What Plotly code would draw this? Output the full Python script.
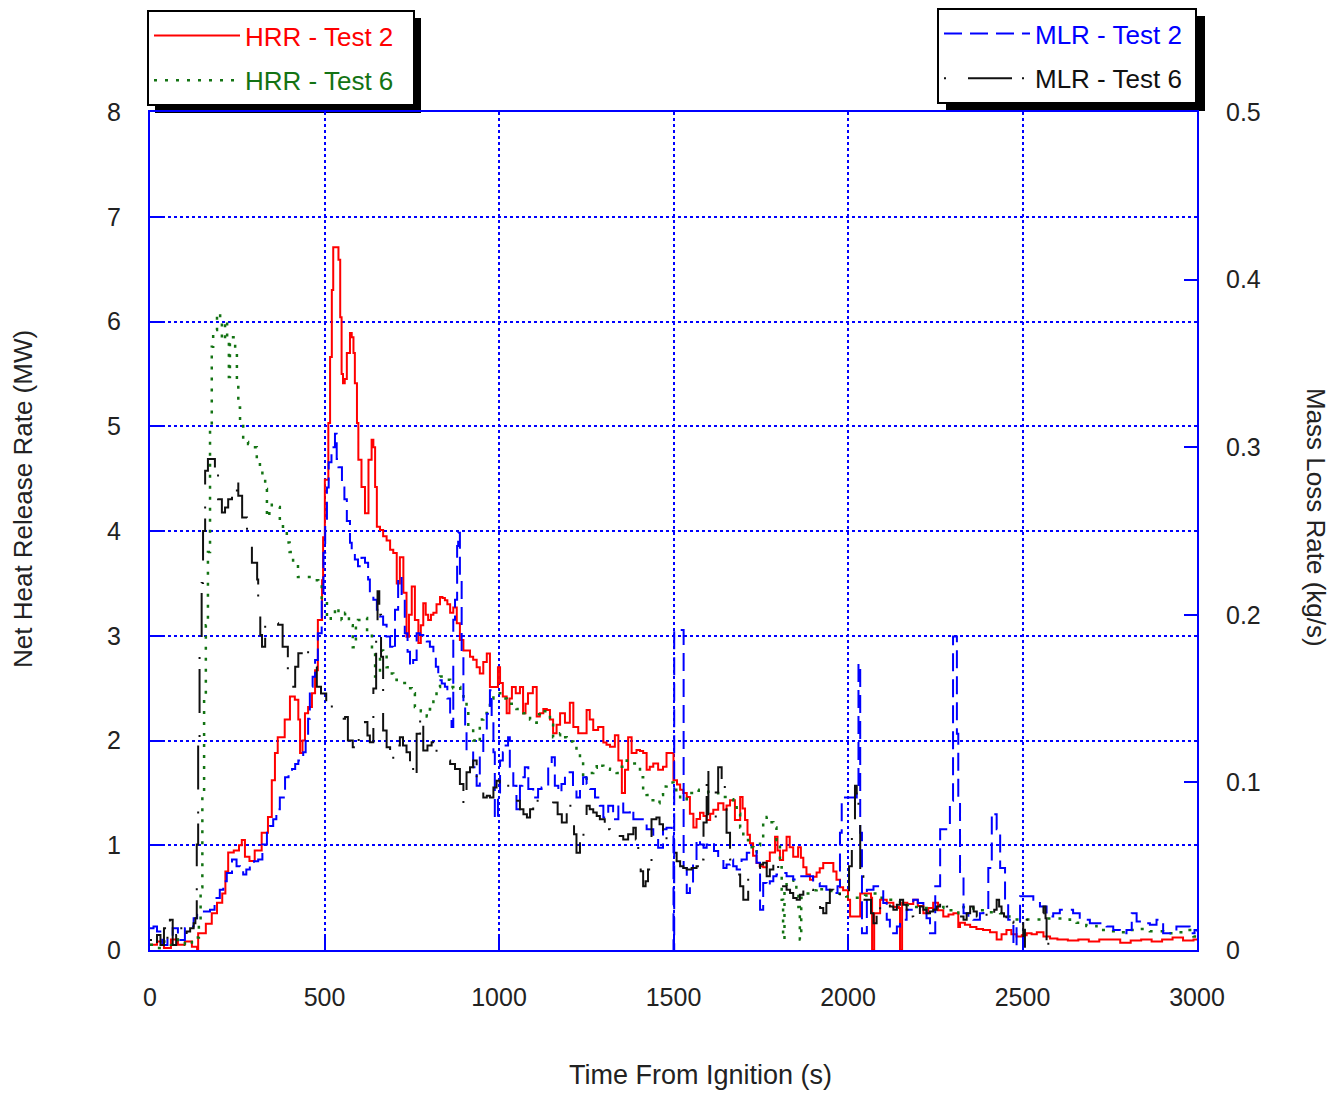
import plotly.graph_objects as go

# (time s, net HRR MW) - HRR Test 2
hrr_test2 = [
    (0, 0.05), (20, 0.08), (40, 0.02), (60, 0.1), (80, 0.05), (100, 0.08), (120, 0.03), (135, 0.0),
    (138, 0.16), (160, 0.25), (177, 0.35), (192, 0.45), (207, 0.54), (216, 0.75), (224, 0.93),
    (240, 0.95), (255, 1.0), (263, 1.05), (272, 0.89), (285, 0.85), (300, 0.95), (320, 1.12),
    (338, 1.27), (349, 1.62), (358, 1.88), (366, 2.03), (386, 2.2), (401, 2.42), (415, 2.39),
    (425, 2.2), (430, 1.88), (437, 2.0), (444, 2.26), (453, 2.32), (464, 2.45), (473, 2.67),
    (481, 3.15), (493, 3.53), (496, 3.94), (501, 4.49), (511, 5.03), (516, 5.66), (521, 6.3),
    (525, 6.71), (535, 6.71), (540, 6.59), (545, 6.04), (549, 5.5), (553, 5.41), (558, 5.45),
    (564, 5.7), (573, 5.89), (578, 5.85), (583, 5.7), (587, 5.41), (593, 5.03), (597, 4.68),
    (606, 4.42), (616, 4.17), (621, 4.17), (626, 4.68), (635, 4.87), (640, 4.8), (645, 4.42),
    (650, 4.04), (659, 4.01), (668, 3.95), (678, 3.91), (688, 3.82), (697, 3.79), (707, 3.5),
    (716, 3.75), (726, 3.41), (735, 2.99), (742, 3.2), (750, 3.47), (759, 3.15), (769, 2.93),
    (776, 3.1), (783, 3.31), (790, 3.2), (797, 3.15), (805, 3.2), (812, 3.22), (821, 3.3),
    (831, 3.37), (838, 3.36), (845, 3.34), (852, 3.3), (860, 3.22), (869, 3.27), (879, 3.12),
    (888, 2.96), (898, 2.86), (907, 2.86), (917, 2.8), (926, 2.77), (936, 2.7), (945, 2.64),
    (955, 2.75), (965, 2.83), (974, 2.51), (988, 2.51), (997, 2.7), (1003, 2.55), (1011, 2.42),
    (1022, 2.26), (1030, 2.4), (1037, 2.51), (1048, 2.45), (1060, 2.51), (1069, 2.26), (1076, 2.35),
    (1083, 2.45), (1097, 2.51), (1108, 2.23), (1117, 2.26), (1127, 2.3), (1137, 2.29), (1146, 2.2),
    (1155, 2.07), (1165, 2.15), (1175, 2.26), (1189, 2.17), (1203, 2.36), (1213, 2.13), (1227, 2.07),
    (1241, 2.07), (1251, 2.29), (1260, 2.2), (1270, 2.1), (1284, 2.13), (1299, 1.98), (1308, 1.96),
    (1318, 1.94), (1332, 2.05), (1342, 1.81), (1352, 1.5), (1361, 1.72), (1370, 2.03), (1380, 1.88),
    (1394, 1.91), (1404, 1.9), (1413, 1.88), (1423, 1.72), (1432, 1.75), (1442, 1.78), (1456, 1.72),
    (1470, 1.75), (1480, 1.88), (1495, 1.88), (1500, 1.62), (1510, 1.58), (1519, 1.53), (1528, 1.5),
    (1538, 1.46), (1547, 1.3), (1557, 1.17), (1566, 1.25), (1576, 1.31), (1586, 1.28), (1595, 1.24),
    (1605, 1.3), (1614, 1.34), (1628, 1.4), (1643, 1.34), (1652, 1.38), (1662, 1.43), (1676, 1.24),
    (1691, 1.46), (1698, 1.35), (1705, 1.24), (1712, 1.1), (1719, 1.02), (1728, 0.9), (1738, 0.83),
    (1747, 0.8), (1757, 0.79), (1767, 0.85), (1776, 0.93), (1791, 1.08), (1798, 0.95), (1805, 0.86),
    (1814, 0.95), (1824, 1.08), (1833, 0.98), (1843, 0.89), (1857, 0.98), (1865, 0.88), (1872, 0.79),
    (1881, 0.72), (1891, 0.67), (1900, 0.7), (1910, 0.74), (1919, 0.78), (1929, 0.83), (1948, 0.83),
    (1958, 0.75), (1967, 0.67), (1977, 0.6), (1986, 0.57), (2000, 0.48), (2006, 0.32), (2024, 0.32),
    (2035, 0.54), (2054, 0.54), (2066, 0.5), (2069, 0.0), (2075, 0.35), (2092, 0.48), (2111, 0.45),
    (2130, 0.41), (2146, 0.4), (2149, 0.0), (2155, 0.45), (2170, 0.44), (2187, 0.48), (2200, 0.42),
    (2216, 0.35), (2230, 0.4), (2244, 0.45), (2258, 0.38), (2273, 0.32), (2288, 0.34), (2302, 0.35),
    (2316, 0.22), (2321, 0.26), (2335, 0.24), (2350, 0.22), (2368, 0.2), (2387, 0.19), (2407, 0.17),
    (2426, 0.1), (2440, 0.15), (2454, 0.19), (2468, 0.15), (2483, 0.13), (2498, 0.14), (2512, 0.16),
    (2526, 0.15), (2541, 0.17), (2560, 0.13), (2579, 0.11), (2600, 0.1), (2630, 0.09), (2660, 0.1),
    (2690, 0.08), (2720, 0.1), (2750, 0.1), (2780, 0.07), (2810, 0.09), (2840, 0.1), (2870, 0.08),
    (2900, 0.1), (2930, 0.12), (2960, 0.09), (2990, 0.1), (3000, 0.1),
]

# (time s, net HRR MW) - HRR Test 6
hrr_test6 = [
    (0, 0.05), (20, 0.02), (40, 0.08), (60, 0.05), (80, 0.1), (100, 0.05), (120, 0.12), (140, 0.25),
    (145, 0.6), (150, 1.5), (155, 2.4), (160, 3.1), (166, 3.8), (172, 4.96), (177, 5.76), (181, 5.92),
    (192, 6.08), (201, 6.01), (206, 5.82), (215, 6.01), (221, 5.85), (226, 5.47), (229, 5.78),
    (238, 5.85), (244, 5.7), (249, 5.4), (253, 5.18), (258, 5.03), (267, 4.85), (281, 4.83),
    (295, 4.8), (306, 4.65), (315, 4.6), (322, 4.5), (330, 4.4), (335, 4.13), (342, 4.2), (349, 4.25),
    (364, 4.23), (372, 4.08), (381, 4.01), (392, 3.89), (400, 3.8), (410, 3.7), (424, 3.56),
    (443, 3.56), (463, 3.53), (482, 3.5), (492, 3.34), (507, 3.15), (518, 3.2), (530, 3.27),
    (540, 3.2), (549, 3.15), (559, 3.22), (570, 3.1), (581, 2.89), (590, 3.1), (596, 3.15),
    (610, 3.17), (622, 3.0), (636, 2.86), (645, 2.61), (659, 2.86), (668, 2.83), (678, 2.7),
    (688, 2.64), (697, 2.58), (707, 2.55), (716, 2.55), (726, 2.55), (738, 2.5), (750, 2.45),
    (759, 2.32), (776, 2.28), (793, 2.23), (802, 2.3), (812, 2.39), (821, 2.51), (831, 2.61),
    (840, 2.6), (850, 2.58), (860, 2.51), (869, 2.5), (879, 2.51), (889, 2.47), (898, 2.42),
    (907, 2.29), (912, 2.13), (926, 2.0), (936, 1.98), (945, 2.2), (955, 2.26), (965, 2.32),
    (974, 2.4), (984, 2.45), (993, 2.45), (1003, 2.45), (1012, 2.4), (1022, 2.36), (1031, 2.35),
    (1041, 2.34), (1050, 2.3), (1060, 2.29), (1070, 2.26), (1080, 2.23), (1089, 2.2), (1098, 2.17),
    (1108, 2.25), (1117, 2.29), (1127, 2.28), (1137, 2.26), (1146, 2.15), (1155, 2.03), (1165, 2.05),
    (1175, 2.07), (1185, 2.03), (1194, 2.0), (1203, 1.99), (1213, 1.98), (1222, 1.9), (1232, 1.81),
    (1241, 1.62), (1251, 1.65), (1261, 1.69), (1270, 1.74), (1280, 1.78), (1290, 1.76), (1299, 1.75),
    (1308, 1.73), (1318, 1.72), (1327, 1.7), (1337, 1.69), (1352, 1.75), (1366, 1.81), (1380, 1.78),
    (1394, 1.75), (1404, 1.65), (1413, 1.53), (1423, 1.48), (1432, 1.43), (1442, 1.41), (1451, 1.4),
    (1460, 1.48), (1470, 1.56), (1480, 1.6), (1490, 1.6), (1500, 1.55), (1508, 1.5), (1519, 1.43),
    (1528, 1.44), (1538, 1.46), (1547, 1.5), (1557, 1.53), (1572, 1.52), (1586, 1.51), (1600, 1.5),
    (1614, 1.5), (1628, 1.48), (1643, 1.46), (1657, 1.44), (1671, 1.43), (1681, 1.3), (1691, 1.17),
    (1700, 1.05), (1714, 0.98), (1729, 0.93), (1738, 1.0), (1748, 1.05), (1757, 1.24), (1767, 1.27),
    (1776, 1.22), (1786, 1.17), (1795, 1.05), (1805, 0.79), (1810, 0.48), (1814, 0.1), (1818, 0.6),
    (1824, 0.64), (1833, 0.66), (1843, 0.67), (1852, 0.55), (1858, 0.41), (1862, 0.1), (1866, 0.5),
    (1881, 0.54), (1895, 0.57), (1910, 0.6), (1924, 0.58), (1938, 0.57), (1952, 0.55), (1967, 0.54),
    (1981, 0.52), (1995, 0.51), (2015, 0.5), (2035, 0.51), (2049, 0.52), (2063, 0.54), (2087, 0.5),
    (2111, 0.48), (2130, 0.47), (2149, 0.46), (2168, 0.43), (2187, 0.41), (2206, 0.4), (2225, 0.38),
    (2249, 0.4), (2273, 0.41), (2288, 0.38), (2302, 0.35), (2316, 0.38), (2331, 0.41), (2345, 0.4),
    (2359, 0.38), (2397, 0.36), (2436, 0.35), (2455, 0.32), (2474, 0.29), (2507, 0.29), (2541, 0.29),
    (2569, 0.3), (2593, 0.3), (2617, 0.29), (2636, 0.27), (2655, 0.26), (2683, 0.23), (2712, 0.19),
    (2741, 0.18), (2770, 0.17), (2798, 0.19), (2827, 0.2), (2865, 0.18), (2903, 0.16), (2932, 0.17),
    (2961, 0.19), (2990, 0.13), (3000, 0.14),
]

# (time s, mass loss rate kg/s) - MLR Test 2
mlr_test2 = [
    (0, 0.013), (10, 0.014), (20, 0.011), (35, 0.003), (50, 0.008), (65, 0.013), (80, 0.006),
    (100, 0.013), (115, 0.014), (125, 0.019), (135, 0.022), (150, 0.023), (172, 0.024), (185, 0.031),
    (200, 0.036), (210, 0.041), (220, 0.046), (235, 0.054), (248, 0.05), (258, 0.049), (267, 0.045),
    (276, 0.048), (286, 0.05), (298, 0.053), (310, 0.054), (322, 0.063), (335, 0.07), (344, 0.074),
    (353, 0.078), (362, 0.084), (372, 0.091), (387, 0.103), (397, 0.106), (407, 0.108), (416, 0.111),
    (425, 0.113), (439, 0.118), (446, 0.125), (453, 0.138), (458, 0.157), (466, 0.163), (473, 0.173),
    (481, 0.189), (492, 0.209), (497, 0.237), (502, 0.256), (507, 0.276), (512, 0.291), (520, 0.3),
    (530, 0.308), (535, 0.293), (540, 0.288), (550, 0.276), (557, 0.269), (564, 0.256), (573, 0.243),
    (578, 0.237), (587, 0.233), (596, 0.229), (606, 0.234), (616, 0.231), (625, 0.221), (630, 0.213),
    (640, 0.209), (650, 0.203), (659, 0.199), (668, 0.194), (678, 0.187), (688, 0.181), (697, 0.179),
    (702, 0.203), (711, 0.223), (721, 0.211), (730, 0.189), (738, 0.178), (745, 0.169), (754, 0.173),
    (764, 0.189), (773, 0.188), (783, 0.187), (793, 0.184), (802, 0.181), (812, 0.175), (819, 0.169),
    (826, 0.161), (836, 0.159), (845, 0.157), (852, 0.15), (860, 0.141), (864, 0.133), (869, 0.197),
    (874, 0.209), (880, 0.241), (883, 0.249), (888, 0.221), (893, 0.177), (898, 0.148), (903, 0.131),
    (907, 0.119), (917, 0.119), (926, 0.109), (936, 0.098), (945, 0.118), (955, 0.131), (965, 0.141),
    (974, 0.155), (979, 0.138), (984, 0.118), (988, 0.078), (997, 0.094), (1003, 0.113), (1011, 0.118),
    (1019, 0.122), (1026, 0.127), (1031, 0.108), (1041, 0.098), (1050, 0.084), (1060, 0.098),
    (1067, 0.103), (1074, 0.109), (1084, 0.096), (1098, 0.091), (1112, 0.096), (1122, 0.097),
    (1131, 0.098), (1141, 0.109), (1151, 0.115), (1160, 0.098), (1170, 0.094), (1179, 0.099),
    (1189, 0.106), (1203, 0.106), (1212, 0.097), (1222, 0.091), (1232, 0.099), (1241, 0.103),
    (1251, 0.099), (1261, 0.096), (1275, 0.091), (1289, 0.086), (1299, 0.079), (1313, 0.086),
    (1327, 0.078), (1342, 0.088), (1356, 0.082), (1375, 0.084), (1385, 0.078), (1404, 0.078),
    (1423, 0.072), (1442, 0.068), (1456, 0.061), (1470, 0.072), (1480, 0.073), (1495, 0.072),
    (1498, 0.068), (1500, 0.0), (1502, 0.191), (1527, 0.191), (1529, 0.049), (1538, 0.034),
    (1547, 0.04), (1556, 0.053), (1566, 0.066), (1576, 0.063), (1586, 0.061), (1595, 0.063),
    (1605, 0.064), (1616, 0.059), (1628, 0.054), (1643, 0.049), (1652, 0.051), (1662, 0.054),
    (1671, 0.05), (1681, 0.048), (1695, 0.054), (1710, 0.058), (1724, 0.059), (1738, 0.052),
    (1748, 0.024), (1757, 0.04), (1767, 0.038), (1776, 0.041), (1786, 0.044), (1795, 0.045),
    (1805, 0.046), (1824, 0.044), (1843, 0.042), (1862, 0.044), (1881, 0.044), (1900, 0.04),
    (1919, 0.038), (1938, 0.036), (1958, 0.034), (1970, 0.038), (1977, 0.07), (1982, 0.091),
    (2000, 0.091), (2015, 0.091), (2025, 0.094), (2030, 0.171), (2035, 0.07), (2040, 0.01),
    (2054, 0.036), (2073, 0.038), (2092, 0.036), (2101, 0.028), (2111, 0.018), (2120, 0.01),
    (2140, 0.014), (2149, 0.018), (2168, 0.024), (2187, 0.03), (2200, 0.028), (2216, 0.026),
    (2225, 0.019), (2235, 0.01), (2250, 0.038), (2264, 0.072), (2278, 0.072), (2292, 0.089),
    (2301, 0.187), (2307, 0.187), (2312, 0.129), (2316, 0.089), (2321, 0.044), (2331, 0.022),
    (2345, 0.019), (2359, 0.018), (2378, 0.022), (2388, 0.024), (2402, 0.049), (2412, 0.082),
    (2419, 0.081), (2426, 0.072), (2436, 0.049), (2450, 0.03), (2459, 0.018), (2474, 0.002),
    (2483, 0.014), (2493, 0.032), (2512, 0.032), (2531, 0.03), (2550, 0.026), (2569, 0.02),
    (2588, 0.022), (2607, 0.024), (2627, 0.024), (2645, 0.022), (2664, 0.018), (2693, 0.016),
    (2722, 0.016), (2741, 0.014), (2760, 0.012), (2779, 0.01), (2798, 0.012), (2813, 0.022),
    (2827, 0.017), (2846, 0.016), (2865, 0.015), (2884, 0.018), (2903, 0.01), (2922, 0.01),
    (2941, 0.014), (2960, 0.014), (2979, 0.01), (2993, 0.012), (3000, 0.011),
]

# (time s, mass loss rate kg/s) - MLR Test 6
mlr_test6 = [
    (0, 0.006), (10, 0.0), (20, 0.009), (30, 0.003), (40, 0.013), (50, 0.006), (57, 0.018),
    (65, 0.003), (75, 0.009), (86, 0.013), (95, 0.006), (105, 0.011), (115, 0.013), (125, 0.016),
    (130, 0.019), (134, 0.063), (138, 0.125), (142, 0.175), (148, 0.219), (152, 0.25), (158, 0.286),
    (166, 0.293), (181, 0.293), (186, 0.285), (195, 0.269), (206, 0.261), (215, 0.264), (224, 0.269),
    (235, 0.273), (249, 0.283), (253, 0.271), (264, 0.258), (278, 0.244), (292, 0.231), (307, 0.221),
    (310, 0.204), (316, 0.188), (321, 0.181), (330, 0.194), (340, 0.197), (350, 0.195), (367, 0.194),
    (380, 0.181), (395, 0.166), (407, 0.157), (416, 0.169), (425, 0.177), (439, 0.179), (453, 0.175),
    (464, 0.169), (478, 0.157), (490, 0.153), (505, 0.147), (521, 0.141), (540, 0.138), (559, 0.139),
    (567, 0.125), (581, 0.121), (598, 0.128), (616, 0.136), (623, 0.128), (630, 0.124), (640, 0.156),
    (648, 0.188), (652, 0.214), (657, 0.2), (662, 0.175), (668, 0.131), (678, 0.121), (688, 0.119),
    (697, 0.113), (706, 0.122), (716, 0.127), (725, 0.122), (735, 0.118), (745, 0.109), (754, 0.101),
    (764, 0.129), (774, 0.141), (783, 0.119), (795, 0.122), (807, 0.124), (821, 0.118), (836, 0.113),
    (848, 0.113), (860, 0.111), (874, 0.108), (888, 0.099), (898, 0.086), (907, 0.106), (917, 0.109),
    (926, 0.113), (936, 0.103), (945, 0.098), (955, 0.091), (965, 0.092), (974, 0.091), (984, 0.097),
    (993, 0.101), (1002, 0.1), (1011, 0.099), (1021, 0.098), (1031, 0.096), (1046, 0.089),
    (1060, 0.084), (1070, 0.081), (1080, 0.079), (1089, 0.084), (1098, 0.089), (1108, 0.089),
    (1117, 0.088), (1127, 0.086), (1137, 0.086), (1146, 0.087), (1155, 0.088), (1168, 0.081),
    (1180, 0.076), (1194, 0.086), (1208, 0.079), (1215, 0.069), (1222, 0.058), (1232, 0.068),
    (1242, 0.078), (1251, 0.086), (1260, 0.084), (1270, 0.082), (1280, 0.08), (1289, 0.078),
    (1303, 0.072), (1318, 0.068), (1327, 0.069), (1337, 0.07), (1346, 0.068), (1356, 0.066),
    (1370, 0.069), (1385, 0.073), (1392, 0.066), (1399, 0.058), (1406, 0.047), (1413, 0.038),
    (1420, 0.041), (1427, 0.048), (1437, 0.078), (1451, 0.079), (1460, 0.075), (1470, 0.07),
    (1480, 0.066), (1490, 0.061), (1500, 0.058), (1509, 0.053), (1519, 0.05), (1528, 0.049),
    (1538, 0.048), (1552, 0.049), (1566, 0.05), (1576, 0.054), (1586, 0.076), (1595, 0.109),
    (1600, 0.081), (1607, 0.08), (1614, 0.079), (1621, 0.094), (1628, 0.109), (1638, 0.101),
    (1647, 0.089), (1652, 0.07), (1662, 0.054), (1676, 0.045), (1691, 0.038), (1700, 0.03),
    (1714, 0.044), (1726, 0.047), (1738, 0.049), (1748, 0.051), (1757, 0.052), (1767, 0.044),
    (1776, 0.048), (1786, 0.052), (1800, 0.044), (1814, 0.038), (1824, 0.036), (1834, 0.034),
    (1843, 0.031), (1853, 0.03), (1862, 0.033), (1872, 0.036), (1881, 0.036), (1891, 0.036),
    (1900, 0.031), (1910, 0.028), (1920, 0.025), (1929, 0.022), (1938, 0.028), (1948, 0.036),
    (1958, 0.034), (1967, 0.034), (1977, 0.031), (1986, 0.03), (1995, 0.034), (2003, 0.05),
    (2011, 0.07), (2020, 0.098), (2025, 0.091), (2030, 0.086), (2035, 0.044), (2044, 0.03),
    (2058, 0.03), (2066, 0.022), (2073, 0.016), (2082, 0.024), (2092, 0.03), (2101, 0.029),
    (2111, 0.028), (2120, 0.026), (2130, 0.024), (2140, 0.027), (2149, 0.03), (2158, 0.027),
    (2168, 0.024), (2178, 0.02), (2187, 0.016), (2197, 0.021), (2206, 0.026), (2216, 0.024),
    (2225, 0.022), (2235, 0.023), (2244, 0.024), (2254, 0.026), (2264, 0.028), (2273, 0.027),
    (2283, 0.026), (2297, 0.024), (2311, 0.022), (2321, 0.02), (2331, 0.018), (2340, 0.022),
    (2350, 0.026), (2360, 0.023), (2369, 0.02), (2383, 0.021), (2397, 0.022), (2405, 0.02),
    (2412, 0.018), (2419, 0.024), (2426, 0.03), (2433, 0.026), (2440, 0.022), (2447, 0.02),
    (2454, 0.018), (2464, 0.017), (2474, 0.016), (2483, 0.02), (2495, 0.019), (2502, 0.002),
    (2507, 0.016), (2512, 0.018), (2526, 0.018), (2541, 0.018), (2550, 0.022), (2560, 0.026),
    (2566, 0.019), (2569, 0.002), (2574, 0.006),
]

x_ticks = [0, 500, 1000, 1500, 2000, 2500, 3000]
hrr_ticks = [0, 1, 2, 3, 4, 5, 6, 7, 8]
mlr_ticks = [0, 0.1, 0.2, 0.3, 0.4, 0.5]

BLUE = "#0000ff"
RED = "#ff0000"
GREEN = "#137313"
TEXT = "#222222"
FONT = "Liberation Sans, Arial, sans-serif"
NBSP = "\u00a0"

# plot area in pixels: x 150..1197, y 112..950
PW, PH = 1047.0, 838.0


def unzip(pairs):
    return [p[0] for p in pairs], [p[1] for p in pairs]


def px_x(px):
    return (px - 150) / PW


def px_y(py):
    return (950 - py) / PH


fig = go.Figure()

t, v = unzip(hrr_test2)
fig.add_trace(go.Scatter(
    x=t, y=v, mode="lines", line_shape="hv",
    name=f'<span style="color:{RED}">HRR - Test 2{NBSP * 2}</span>',
    line=dict(color=RED, width=2),
    legend="legend", legendgroup="a",
))
t, v = unzip(hrr_test6)
fig.add_trace(go.Scatter(
    x=t, y=v, mode="lines", line_shape="hv",
    name=f'<span style="color:{GREEN}">HRR - Test 6{NBSP * 2}</span>',
    line=dict(color=GREEN, width=2.5, dash="3px,8px"),
    legend="legend", legendgroup="b",
))
t, v = unzip(mlr_test2)
fig.add_trace(go.Scatter(
    x=t, y=v, mode="lines", line_shape="hv", yaxis="y2",
    name=f'<span style="color:{BLUE}">MLR - Test 2{NBSP}</span>',
    line=dict(color=BLUE, width=2, dash="18px,8px"),
    legend="legend2", legendgroup="c",
))
t, v = unzip(mlr_test6)
fig.add_trace(go.Scatter(
    x=t, y=v, mode="lines", line_shape="hv", yaxis="y2",
    name=f'<span style="color:#111111">MLR - Test 6{NBSP}</span>',
    line=dict(color="#111111", width=2, dash="2px,22px,44px,10px"),
    legend="legend2", legendgroup="d",
))

axis_font = dict(family=FONT, size=25, color=TEXT)

fig.update_layout(
    width=1333, height=1093,
    margin=dict(l=150, r=136, t=112, b=143, autoexpand=False),
    paper_bgcolor="white", plot_bgcolor="white",
    font=dict(family=FONT, color=TEXT),
    xaxis=dict(
        range=[0, 3000], tickvals=x_ticks, ticktext=[str(x) for x in x_ticks],
        showline=True, linecolor=BLUE, linewidth=2, mirror=True,
        ticks="inside", ticklen=13, tickwidth=2, tickcolor=BLUE,
        showgrid=True, gridcolor=BLUE, gridwidth=1.5, griddash="dot",
        zeroline=False, tickfont=axis_font, ticklabelstandoff=24,
    ),
    yaxis=dict(
        range=[0, 8], tickvals=hrr_ticks, ticktext=[str(y) for y in hrr_ticks],
        showline=True, linecolor=BLUE, linewidth=2, mirror=True,
        ticks="inside", ticklen=13, tickwidth=2, tickcolor=BLUE,
        showgrid=True, gridcolor=BLUE, gridwidth=1.5, griddash="dot",
        zeroline=False, tickfont=axis_font, ticklabelstandoff=22,
    ),
    yaxis2=dict(
        range=[0, 0.5], tickvals=mlr_ticks, ticktext=["0", "0.1", "0.2", "0.3", "0.4", "0.5"],
        overlaying="y", side="right",
        showline=True, linecolor=BLUE, linewidth=2,
        ticks="inside", ticklen=13, tickwidth=2, tickcolor=BLUE,
        showgrid=False, zeroline=False, tickfont=axis_font, ticklabelstandoff=22,
    ),
    legend=dict(
        x=px_x(147), y=px_y(10), xanchor="left", yanchor="top",
        bgcolor="white", bordercolor="black", borderwidth=2,
        font=dict(family=FONT, size=26), itemwidth=86,
        tracegroupgap=8, traceorder="grouped",
    ),
    legend2=dict(
        x=1.0, y=px_y(8), xanchor="right", yanchor="top",
        bgcolor="white", bordercolor="black", borderwidth=2,
        font=dict(family=FONT, size=26), itemwidth=86,
        tracegroupgap=8, traceorder="grouped",
    ),
    showlegend=True,
)

# drop shadows behind the two legend boxes (8 px right and down)
for left, right, top, bottom in [(147, 413, 10, 105), (938, 1197, 8, 103)]:
    fig.add_shape(type="rect", xref="paper", yref="paper",
                  x0=px_x(left + 8), x1=px_x(right + 8),
                  y0=px_y(bottom + 8), y1=px_y(top + 8),
                  fillcolor="black", line=dict(width=0), layer="below")

title_font = dict(family=FONT, size=26, color=TEXT)
fig.add_annotation(text="Net Heat Release Rate (MW)", textangle=-90,
                   xref="paper", yref="paper", x=px_x(23), y=px_y(499),
                   xanchor="center", yanchor="middle",
                   showarrow=False, font=title_font)
fig.add_annotation(text="Mass Loss Rate (kg/s)", textangle=90,
                   xref="paper", yref="paper", x=px_x(1316), y=px_y(517),
                   xanchor="center", yanchor="middle",
                   showarrow=False, font=title_font)
fig.add_annotation(text="Time From Ignition (s)",
                   xref="paper", yref="paper", x=px_x(700), y=px_y(1075),
                   xanchor="center", yanchor="middle",
                   showarrow=False, font=dict(family=FONT, size=27, color=TEXT))

fig.write_html(
    "out.html",
    config={"displayModeBar": False},
    post_script="document.body.style.margin='0px'; document.body.style.overflow='hidden';",
)
